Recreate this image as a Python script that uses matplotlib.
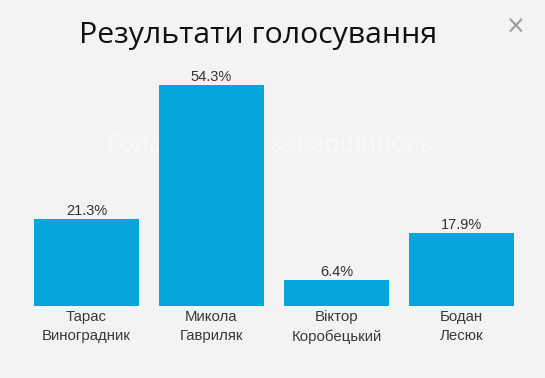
import matplotlib
matplotlib.use("Agg")
import matplotlib.pyplot as plt

categories = ["Тарас\nВиноградник", "Микола\nГавриляк", "Віктор\nКоробецький", "Бодан\nЛесюк"]
values = [21.3, 54.3, 6.4, 17.9]
title = "Результати голосування"

W, H = 545, 378
fig = plt.figure(figsize=(W / 100, H / 100), dpi=100)
fig.patch.set_facecolor("#f3f3f3")

# faint background text behind the dialog
fig.text(274 / W, 1 - 145 / H, "Голосування завершилось.", ha="center", va="center",
         fontsize=19, color="#f8f8f8", family="Liberation Sans", zorder=-5)

# title and close mark
fig.text(258 / W, 1 - 35 / H, title, ha="center", va="center",
         fontsize=21.8, color="#111111", family="Open Sans")
fig.text(515.5 / W, 1 - 27 / H, "×", ha="center", va="center",
         fontsize=17, color="#9a9a9a", family="DejaVu Sans")

ax_left, ax_right = 24.0, 524.0
base = 306.1
ppu = 4.072
ax_bottom = H - base
ax_top = H - (base - 60 * ppu)
ax = fig.add_axes([ax_left / W, ax_bottom / H, (ax_right - ax_left) / W, (ax_top - ax_bottom) / H])
ax.set_facecolor("none")
ax.set_zorder(2)

x = list(range(len(values)))
ax.bar(x, values, width=0.84, color="#04a5db", zorder=2)
for xi, v in zip(x, values):
    ax.annotate(f"{v}%", (xi, v), xytext=(0, 1), textcoords="offset points",
                ha="center", va="bottom", fontsize=10.5, color="#333333",
                family="Liberation Sans")

ax.set_xlim(-0.5, len(values) - 0.5)
ax.set_ylim(0, 60)
ax.set_xticks(x)
ax.set_xticklabels(categories, fontsize=10.8, color="#3a3a3a", family="Liberation Sans",
                   linespacing=1.45)
ax.tick_params(axis="x", length=0, pad=3)
ax.set_yticks([])
for s in ax.spines.values():
    s.set_visible(False)

fig.savefig("out.png", dpi=100, facecolor=fig.get_facecolor())
